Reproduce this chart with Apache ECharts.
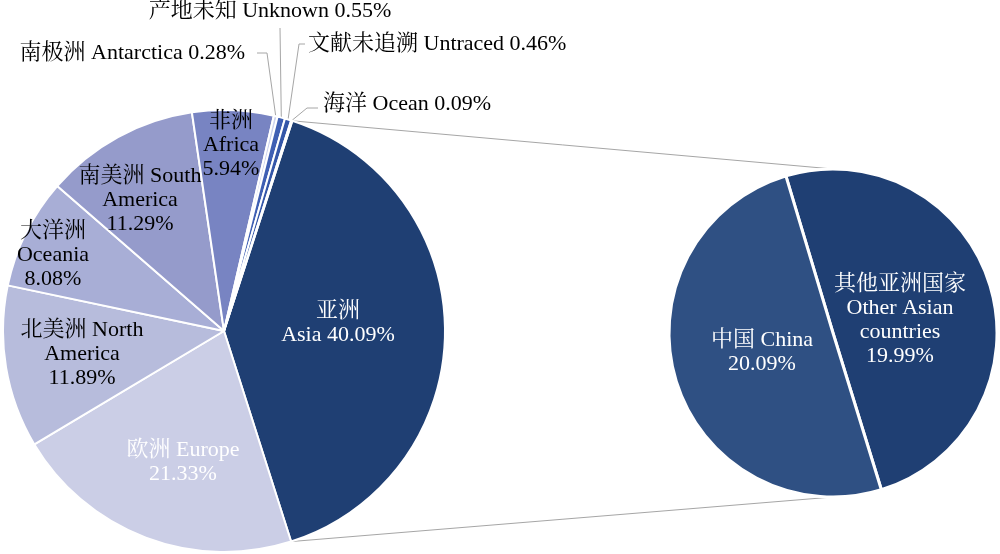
<!DOCTYPE html>
<html>
<head>
<meta charset="utf-8">
<script src="https://cdn.jsdelivr.net/npm/echarts@6/dist/echarts.min.js"></script>
<style>html,body{margin:0;padding:0;background:#fff}#c{width:1000px;height:554px}</style>
</head>
<body>
<div id="c"></div>
<script>
// ---- data ----
const mainCategories = ['Asia','Europe','North America','Oceania','South America','Africa','Antarctica','Unknown','Untraced','Ocean'];
const mainValues = [40.09, 21.33, 11.89, 8.08, 11.29, 5.94, 0.28, 0.55, 0.46, 0.09];
const mainLabelTemplates = [
  '亚洲\nAsia {v}%',
  '欧洲 Europe\n{v}%',
  '北美洲 North\nAmerica\n{v}%',
  '大洋洲\nOceania\n{v}%',
  '南美洲 South\nAmerica\n{v}%',
  '非洲\nAfrica\n{v}%',
  '南极洲 Antarctica {v}%',
  '产地未知 Unknown {v}%',
  '文献未追溯 Untraced {v}%',
  '海洋 Ocean {v}%'
];
const subCategories = ['Other Asian countries', 'China'];
const subValues = [19.99, 20.09];
const subLabelTemplates = [
  '其他亚洲国家\nOther Asian\ncountries\n{v}%',
  '中国 China\n{v}%'
];

// ---- styles / layout ----
const mainColors = ['#1F3F73','#CBCEE6','#B7BCDC','#A8AED6','#959BCB','#7884C2','#CDD4EE','#3F5FB3','#3456A8','#24447E'];
const mainTextColors = ['#fff','#fff','#000','#000','#000','#000','#000','#000','#000','#000'];
const subColors = ['#1F3F73','#2F5083'];
const MC = [224, 331], MR = 221, MSTART = 72;
const SC = [833, 333], SR = 164, SSTART = 106.7;
const FONT = '"Liberation Serif","Times New Roman","Noto Serif CJK SC","Noto Sans CJK SC",serif';

// label placements (text anchor positions)
const mainLabelPos = [
  {x:338,y:323,align:'center'},
  {x:183,y:462,align:'center'},
  {x:82,y:354,align:'center'},
  {x:53,y:255,align:'center'},
  {x:140,y:200,align:'center'},
  {x:231,y:145,align:'center'},
  {x:245,y:53,align:'right', line:[[267,53],[257,53]]},
  {x:270,y:11,align:'center', line:[[280,28],[280,28]]},
  {x:308,y:44,align:'left', line:[[299,44],[305,44]]},
  {x:323,y:104,align:'left', line:[[307,108],[318,108]]}
];
const subLabelPos = [
  {x:900,y:320,align:'center'},
  {x:762,y:352,align:'center'}
];

const total = mainValues.reduce((a,b)=>a+b,0);
function cwPoint(c, r, degCW){
  const a = degCW*Math.PI/180;
  return [c[0] + r*Math.sin(a), c[1] - r*Math.cos(a)];
}
// mid-angle (clockwise from top) of each main slice
const mainMid = [];
let acc = 90 - MSTART;
mainValues.forEach(v=>{ const span = v/total*360; mainMid.push(acc + span/2); acc += span; });
const asiaStartCW = 90 - MSTART;
const asiaEndCW = asiaStartCW + mainValues[0]/total*360;
const topA = cwPoint(MC, MR, asiaStartCW), botA = cwPoint(MC, MR, asiaEndCW);

const chart = echarts.init(document.getElementById('c'), null, {renderer:'canvas'});
chart.setOption({
  backgroundColor:'#fff',
  animation:false,
  graphic:[
    {type:'line', shape:{x1:topA[0],y1:topA[1],x2:SC[0],y2:SC[1]-SR}, style:{stroke:'#A6A6A6',lineWidth:1}, z:1},
    {type:'line', shape:{x1:botA[0],y1:botA[1],x2:SC[0],y2:SC[1]+SR}, style:{stroke:'#A6A6A6',lineWidth:1}, z:1}
  ],
  series:[
    {
      type:'pie', center:MC, radius:MR, startAngle:MSTART, clockwise:true,
      avoidLabelOverlap:false, minAngle:0,
      itemStyle:{borderColor:'#fff', borderWidth:2},
      emphasis:{disabled:true},
      data: mainCategories.map((n,i)=>({
        name:n, value:mainValues[i],
        itemStyle:{color:mainColors[i]},
        label:{show:true, position: mainLabelPos[i].line ? 'outside' : 'inside', color:mainTextColors[i]},
        labelLine:{show: !!mainLabelPos[i].line, lineStyle:{color:'#A6A6A6', width:1}}
      })),
      label:{
        fontFamily:FONT, fontSize:22, lineHeight:24,
        formatter:p=>mainLabelTemplates[p.dataIndex].replace('{v}', p.value.toFixed(2))
      },
      labelLayout:function(p){
        const L = mainLabelPos[p.dataIndex];
        const o = {x:L.x, y:L.y, align:L.align, verticalAlign:'middle'};
        if (L.line){
          const e = cwPoint(MC, MR, mainMid[p.dataIndex]);
          o.labelLinePoints = [e, L.line[0], L.line[1]];
        }
        return o;
      }
    },
    {
      type:'pie', center:SC, radius:SR, startAngle:SSTART, clockwise:true,
      avoidLabelOverlap:false,
      itemStyle:{borderColor:'#fff', borderWidth:3},
      emphasis:{disabled:true},
      data: subCategories.map((n,i)=>({name:n, value:subValues[i], itemStyle:{color:subColors[i]}})),
      label:{
        show:true, position:'inside', color:'#fff',
        fontFamily:FONT, fontSize:22, lineHeight:24,
        formatter:p=>subLabelTemplates[p.dataIndex].replace('{v}', p.value.toFixed(2))
      },
      labelLine:{show:false},
      labelLayout:function(p){
        const L = subLabelPos[p.dataIndex];
        return {x:L.x, y:L.y, align:L.align, verticalAlign:'middle'};
      }
    }
  ]
});
</script>
</body>
</html>
